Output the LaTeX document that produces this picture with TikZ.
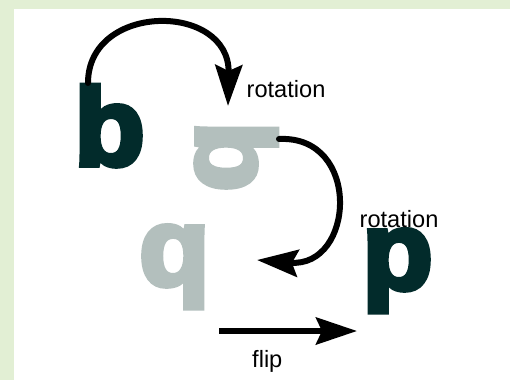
\documentclass[tikz,border=0pt]{standalone}
\usepackage{fontspec}
\setmainfont{Liberation Sans}
\newfontfamily\heavy[FakeBold=5,FakeStretch=1.05]{Liberation Sans Bold}
\usetikzlibrary{arrows.meta}
\definecolor{framegreen}{HTML}{E2EFD4}
\definecolor{darkletter}{HTML}{022B2B}
\definecolor{grayletter}{HTML}{B3BFBD}
\tikzset{
  bigletter/.style={inner sep=0pt, anchor=base west, font=\heavy\fontsize{110}{110}\selectfont},
  lbl/.style={inner sep=0pt, anchor=base west, font=\fontsize{23.6}{24}\selectfont},
  conn/.style={line width=6pt, -{Stealth[length=41pt,width=27pt,inset=6pt]}},
}
\begin{document}
\begin{tikzpicture}[x=1pt,y=-1pt]
\useasboundingbox (0,0) rectangle (510,380);
\fill[framegreen] (0,0) rectangle (510,380);
\fill[white] (14,9) rectangle (510,380);
\node[bigletter, text=darkletter] (b) at (74,165) {b};
\node[bigletter, text=grayletter, rotate=-90] (b2) at (197,121) {b};
\node[bigletter, text=grayletter] (q) at (139,285) {q};
\node[bigletter, text=darkletter] (p) at (362,289) {p};
\node[lbl] (rot1) at (246.5,97) {rotation};
\node[lbl] (rot2) at (359.5,227) {rotation};
\node[lbl] (flipl) at (252,367) {flip};
\coordinate (a1s) at (88,83);
\coordinate (a1e) at (228,106);
\coordinate (a2s) at (279,139);
\coordinate (a2e) at (257,260);
\coordinate (a3s) at (219,331);
\coordinate (a3e) at (357,331);
\draw[conn, line cap=round] (a1s) .. controls (88,2) and (230,2) .. (a1e);
\draw[conn, line cap=round] (a2s) .. controls (362,135) and (355,268) .. (a2e);
\draw[conn] (a3s) -- (a3e);
\end{tikzpicture}
\end{document}
